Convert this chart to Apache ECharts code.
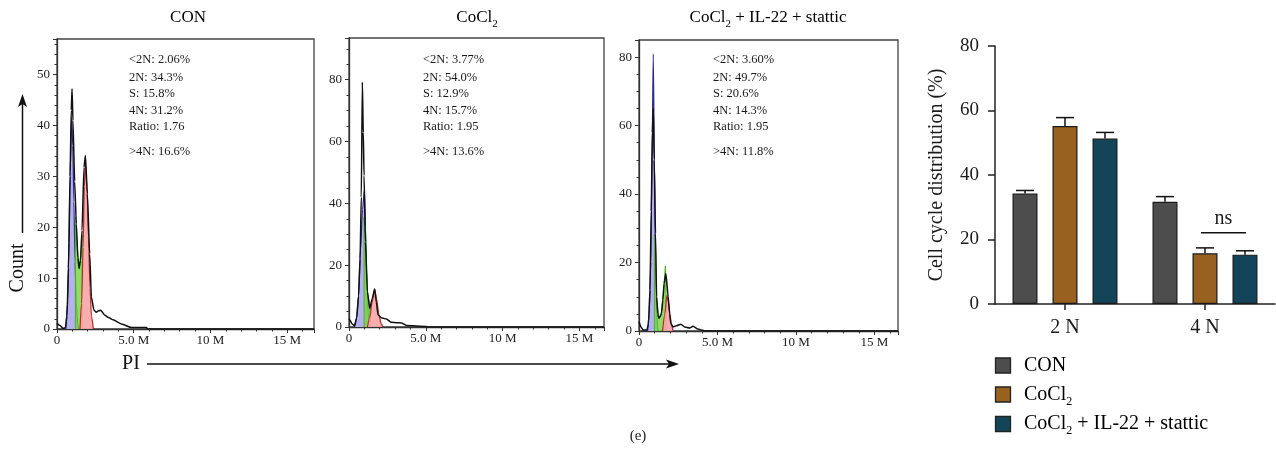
<!DOCTYPE html>
<html>
<head>
<meta charset="utf-8">
<script src="https://cdn.jsdelivr.net/npm/echarts@6/dist/echarts.min.js"></script>
<style>html,body{margin:0;padding:0;background:#fff;}#chart{width:1276px;height:468px;}</style>
</head>
<body>
<div id="chart"></div>
<script>
// ---------------- DATA ----------------
const histTitles = ['CON', 'CoCl2', 'CoCl2 + IL-22 + stattic'];
const xTickLabels = ['0', '5.0 M', '10 M', '15 M'];
const histYMax = [57, 93.5, 85];
const histXMax = [16.75, 16.6, 16.5];
const histYInterval = [10, 20, 20];

const ann1 = ['<2N: 2.06%', '2N: 34.3%', 'S: 15.8%', '4N: 31.2%', 'Ratio: 1.76', '>4N: 16.6%'];
const ann2 = ['<2N: 3.77%', '2N: 54.0%', 'S: 12.9%', '4N: 15.7%', 'Ratio: 1.95', '>4N: 13.6%'];
const ann3 = ['<2N: 3.60%', '2N: 49.7%', 'S: 20.6%', '4N: 14.3%', 'Ratio: 1.95', '>4N: 11.8%'];

// CON histogram (x in millions, y = count)
const conTotal = [[0,1.1],[0.2,0.7],[0.4,0.1],[0.55,0.3],[0.65,2.5],[0.75,12],[0.85,30],[0.93,43],[0.98,47.2],[1.04,41],[1.15,29],[1.26,20.7],[1.36,14],[1.44,11.9],[1.53,13.5],[1.63,19.4],[1.76,31.8],[1.85,34.1],[1.98,26.6],[2.13,14.8],[2.24,6.3],[2.41,3.7],[2.56,3.3],[2.72,3.6],[2.85,3.7],[3.11,2.7],[3.4,2.2],[3.65,1.8],[4.2,1.0],[4.85,0.3],[5.83,0.3],[5.9,0],[16.75,0]];
const conG1 = [[0.58,0],[0.68,5],[0.78,17],[0.86,31],[0.95,41.6],[1.03,36],[1.1,25],[1.18,13],[1.26,5],[1.35,1],[1.42,0]];
const conS = [[1.2,0],[1.2,22],[1.3,17],[1.44,11.9],[1.55,14.5],[1.65,18.5],[1.65,0]];
const conG2 = [[1.5,0],[1.6,5],[1.7,16],[1.78,28],[1.86,32.5],[1.95,28],[2.05,18],[2.15,8],[2.25,2.5],[2.37,0]];

// CoCl2 histogram
const cocTotal = [[0,2.7],[0.05,2.3],[0.2,1.0],[0.37,0.4],[0.5,3],[0.62,10],[0.72,22],[0.8,42],[0.87,79.2],[0.93,63],[0.98,49],[1.07,27.6],[1.2,11.4],[1.35,6],[1.5,9],[1.67,12.3],[1.78,8],[1.89,3.9],[2.1,3.0],[2.43,2.6],[2.76,1.5],[3.1,1.4],[3.41,1.3],[3.74,0.5],[5.04,0.2],[5.1,0],[16.6,0]];
const cocG1 = [[0.35,0],[0.5,3],[0.62,10],[0.75,25],[0.88,38],[1.0,44.3],[1.08,32],[1.16,14],[1.26,4],[1.36,0]];
const cocS = [[0.98,0],[0.98,35.5],[1.07,27.6],[1.2,11.4],[1.37,6],[1.37,0]];
const cocG2 = [[1.2,0],[1.35,3],[1.5,8],[1.67,12.3],[1.8,9],[1.95,4],[2.1,1],[2.2,0]];

// CoCl2 + IL-22 + stattic histogram
const staTotal = [[0,2.7],[0.15,1],[0.27,0.3],[0.5,0.3],[0.6,2],[0.7,12],[0.78,35],[0.85,58],[0.91,65],[0.97,50],[1.05,28.5],[1.12,10],[1.2,5],[1.27,3.7],[1.35,4.2],[1.43,5.2],[1.52,9],[1.6,13.9],[1.71,16.8],[1.86,10],[1.95,5],[2.03,2.2],[2.17,1.2],[2.38,1.5],[2.66,2.0],[2.91,1.2],[3.23,0.9],[3.44,1.4],[3.75,0.6],[4.07,0.2],[4.2,0],[16.5,0]];
const staG1 = [[0.55,0],[0.65,5],[0.75,20],[0.83,50],[0.91,80.9],[0.98,50],[1.05,20],[1.12,6],[1.2,0]];
const staS = [[0.98,0],[0.98,28],[1.05,26],[1.12,10],[1.27,3.7],[1.43,5.2],[1.6,13.9],[1.68,19],[1.72,12],[1.72,0]];
const staG2 = [[1.5,0],[1.65,5],[1.78,10.5],[1.88,8.5],[1.97,5],[2.06,2],[2.17,0]];

// Bar chart
const barCategories = ['2 N', '4 N'];
const barSeriesNames = ['CON', 'CoCl2', 'CoCl2 + IL-22 + stattic'];
const conBar = [34.3, 31.7];
const conErr = [0.9, 1.6];
const cocBar = [55.2, 15.7];
const cocErr = [2.6, 1.7];
const staBar = [51.3, 15.3];
const staErr = [1.9, 1.2];
const barYTicks = [0, 20, 40, 60, 80];
const nsLevel = 22.1;
const nsText = 'ns';

// ---------------- CHART ----------------
const FONT = "'Liberation Serif','Times New Roman',serif";
const chart = echarts.init(document.getElementById('chart'), null, {renderer: 'canvas'});

const grids = [
  {left: 57, top: 39, width: 257, height: 290},
  {left: 349, top: 38, width: 255, height: 289},
  {left: 639, top: 40, width: 259, height: 291}
];
const histData = [
  {total: conTotal, g1: conG1, s: conS, g2: conG2},
  {total: cocTotal, g1: cocG1, s: cocS, g2: cocG2},
  {total: staTotal, g1: staG1, s: staS, g2: staG2}
];
const anns = [ann1, ann2, ann3];
const annX = [129, 423, 713];
const annY = [60, 77.5, 94, 110.7, 127, 151.7];
const titleX = [188, 477, 768];

const richSub = function (size) {
  return {
    t: {fontSize: size, fontFamily: FONT, color: '#1a1a1a', lineHeight: size + 6, verticalAlign: 'middle'},
    s: {fontSize: Math.round(size * 0.62), fontFamily: FONT, color: '#1a1a1a', lineHeight: Math.round(size * 0.62), verticalAlign: 'bottom'}
  };
};
function toRich(name) {
  if (name.indexOf('CoCl2') === 0) {
    const rest = name.slice(5);
    return '{t|CoCl}{s|2}' + (rest ? '{t|' + rest + '}' : '');
  }
  return '{t|' + name + '}';
}

const grid = grids.map(g => Object.assign({show: true, borderColor: '#444', borderWidth: 1.3, backgroundColor: 'transparent'}, g));
grid.push({left: 995, top: 46, width: 280, height: 258});

const xAxis = [], yAxis = [], series = [];
for (let p = 0; p < 3; p++) {
  xAxis.push({
    gridIndex: p, type: 'value', min: 0, max: histXMax[p], interval: 5,
    axisLine: {show: true, lineStyle: {color: '#333', width: 1.3}},
    axisTick: {show: true, length: 4, lineStyle: {color: '#333'}},
    minorTick: {show: true, splitNumber: 5, length: 2.5, lineStyle: {color: '#333'}},
    splitLine: {show: false},
    axisLabel: {fontFamily: FONT, fontSize: 13, color: '#222', margin: 5, showMaxLabel: false,
      formatter: v => (v % 5 === 0 && v / 5 < xTickLabels.length) ? xTickLabels[v / 5] : ''}
  });
  yAxis.push({
    gridIndex: p, type: 'value', min: 0, max: histYMax[p], interval: histYInterval[p],
    axisLine: {show: true, lineStyle: {color: '#333', width: 1.3}},
    axisTick: {show: true, length: 4, lineStyle: {color: '#333'}},
    minorTick: {show: true, splitNumber: p === 0 ? 5 : 4, length: 2.5, lineStyle: {color: '#333'}},
    splitLine: {show: false},
    axisLabel: {fontFamily: FONT, fontSize: 13, color: '#222', margin: 7, showMaxLabel: false}
  });
  const d = histData[p];
  series.push({type: 'line', xAxisIndex: p, yAxisIndex: p, data: d.g1, showSymbol: false, smooth: 0.25, smoothMonotone: 'x',
    lineStyle: {color: '#2b2a8f', width: 1.2}, areaStyle: {color: '#b5b0ef', opacity: 1}, z: 2, silent: true});
  series.push({type: 'line', xAxisIndex: p, yAxisIndex: p, data: d.s, showSymbol: false, smooth: false,
    lineStyle: {color: '#49b51c', width: 1}, areaStyle: {color: '#74d43c', opacity: 0.8}, z: 3, silent: true});
  series.push({type: 'line', xAxisIndex: p, yAxisIndex: p, data: d.g2, showSymbol: false, smooth: 0.25, smoothMonotone: 'x',
    lineStyle: {color: '#b52a2a', width: 1.2}, areaStyle: {color: '#f7a5a5', opacity: 0.9}, z: 4, silent: true});
  series.push({type: 'line', xAxisIndex: p, yAxisIndex: p, data: d.total, showSymbol: false, smooth: 0.2, smoothMonotone: 'x',
    lineStyle: {color: '#111', width: 1.5}, z: 5, silent: true});
}

// bar chart axes
xAxis.push({
  gridIndex: 3, type: 'category', data: barCategories,
  axisLine: {show: true, lineStyle: {color: '#222', width: 1.5}},
  axisTick: {show: true, alignWithLabel: true, length: 6, lineStyle: {color: '#222', width: 1.5}},
  axisLabel: {fontFamily: FONT, fontSize: 20, color: '#1a1a1a', margin: 14}
});
yAxis.push({
  gridIndex: 3, type: 'value', min: barYTicks[0], max: barYTicks[barYTicks.length - 1], interval: barYTicks[1] - barYTicks[0],
  name: 'Cell cycle distribution (%)', nameLocation: 'middle', nameGap: 48,
  nameTextStyle: {fontFamily: FONT, fontSize: 20, color: '#1a1a1a'},
  axisLine: {show: true, lineStyle: {color: '#222', width: 1.5}},
  axisTick: {show: true, length: 7, lineStyle: {color: '#222', width: 1.5}},
  splitLine: {show: false},
  axisLabel: {fontFamily: FONT, fontSize: 19, color: '#1a1a1a', margin: 16}
});

const barColors = ['#4d4d4d', '#98611f', '#14445a'];
const barVals = [conBar, cocBar, staBar];
const barErrs = [conErr, cocErr, staErr];
const barOffsets = [-40, 0, 40];
for (let i = 0; i < 3; i++) {
  series.push({type: 'bar', name: barSeriesNames[i], xAxisIndex: 3, yAxisIndex: 3, data: barVals[i],
    barWidth: 25, barGap: '60%', itemStyle: {color: barColors[i], borderColor: '#1a1a1a', borderWidth: 1.2}, z: 2, silent: true});
}
for (let i = 0; i < 3; i++) {
  const off = barOffsets[i];
  series.push({type: 'custom', xAxisIndex: 3, yAxisIndex: 3, z: 3, silent: true,
    data: barVals[i].map((v, k) => [k, v, v + barErrs[i][k]]),
    renderItem: function (params, api) {
      const base = api.coord([api.value(0), api.value(1)]);
      const top = api.coord([api.value(0), api.value(2)]);
      const cx = base[0] + off;
      return {type: 'group', children: [
        {type: 'line', shape: {x1: cx, y1: base[1], x2: cx, y2: top[1]}, style: {stroke: '#111', lineWidth: 1.5}},
        {type: 'line', shape: {x1: cx - 9, y1: top[1], x2: cx + 9, y2: top[1]}, style: {stroke: '#111', lineWidth: 1.5}}
      ]};
    }
  });
}
// ns bracket over 4 N CoCl2 vs stattic
series.push({type: 'custom', xAxisIndex: 3, yAxisIndex: 3, z: 4, silent: true,
  data: [[1, nsLevel]],
  renderItem: function (params, api) {
    const c = api.coord([api.value(0), api.value(1)]);
    const x1 = c[0] + barOffsets[1] - 4, x2 = c[0] + barOffsets[2] + 1;
    return {type: 'group', children: [
      {type: 'line', shape: {x1: x1, y1: c[1], x2: x2, y2: c[1]}, style: {stroke: '#111', lineWidth: 1.3}},
      {type: 'text', style: {text: nsText, x: (x1 + x2) / 2, y: c[1] - 4, font: '20px ' + FONT, fill: '#1a1a1a', align: 'center', verticalAlign: 'bottom', textAlign: 'center', textVerticalAlign: 'bottom'}}
    ]};
  }
});

// graphics: titles, annotations, axis captions, legend
const graphic = [];
for (let p = 0; p < 3; p++) {
  graphic.push({type: 'text', x: titleX[p], y: 18, silent: true,
    style: {text: toRich(histTitles[p]), rich: richSub(17), align: 'center', verticalAlign: 'middle', textAlign: 'center', textVerticalAlign: 'middle'}});
  anns[p].forEach((t, k) => {
    graphic.push({type: 'text', x: annX[p], y: annY[k], silent: true,
      style: {text: t, font: '12.5px ' + FONT, fill: '#1a1a1a', align: 'left', verticalAlign: 'middle', textAlign: 'left', textVerticalAlign: 'middle'}});
  });
}
graphic.push({type: 'text', x: 18, y: 268, rotation: Math.PI / 2, silent: true,
  style: {text: 'Count', font: '20px ' + FONT, fill: '#111', align: 'center', verticalAlign: 'middle', textAlign: 'center', textVerticalAlign: 'middle'}});
graphic.push({type: 'line', silent: true, shape: {x1: 22.5, y1: 233, x2: 22.5, y2: 103}, style: {stroke: '#111', lineWidth: 1.5}});
graphic.push({type: 'polygon', silent: true, shape: {points: [[22.5, 94], [18, 107], [22.5, 104], [27, 107]]}, style: {fill: '#111'}});
graphic.push({type: 'text', x: 131, y: 364, silent: true,
  style: {text: 'PI', font: '20px ' + FONT, fill: '#111', align: 'center', verticalAlign: 'middle', textAlign: 'center', textVerticalAlign: 'middle'}});
graphic.push({type: 'line', silent: true, shape: {x1: 147, y1: 364, x2: 670, y2: 364}, style: {stroke: '#111', lineWidth: 1.5}});
graphic.push({type: 'polygon', silent: true, shape: {points: [[679, 364], [666, 359.5], [669, 364], [666, 368.5]]}, style: {fill: '#111'}});
graphic.push({type: 'text', x: 638, y: 436, silent: true,
  style: {text: '(e)', font: '15px ' + FONT, fill: '#222', align: 'center', verticalAlign: 'middle', textAlign: 'center', textVerticalAlign: 'middle'}});

// legend (drawn as graphics for exact placement)
const legendTops = [358, 387, 416.5];
barSeriesNames.forEach((n, i) => {
  graphic.push({type: 'rect', silent: true, shape: {x: 995.5, y: legendTops[i], width: 15, height: 15},
    style: {fill: barColors[i], stroke: '#222', lineWidth: 1.3}});
  graphic.push({type: 'text', x: 1024, y: legendTops[i] + 7.5, silent: true,
    style: {text: toRich(n), rich: richSub(20), align: 'left', verticalAlign: 'middle', textAlign: 'left', textVerticalAlign: 'middle'}});
});

const option = {
  animation: false,
  backgroundColor: '#fff',
  grid: grid,
  xAxis: xAxis,
  yAxis: yAxis,
  series: series,
  graphic: graphic
};
chart.setOption(option);
</script>
</body>
</html>
